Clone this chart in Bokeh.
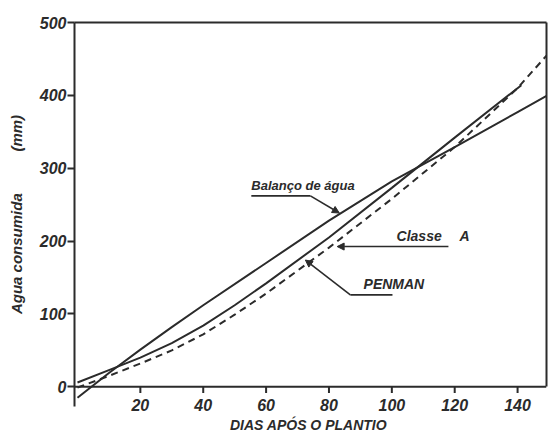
from bokeh.plotting import figure
from bokeh.models import LinearAxis, FixedTicker, Label, Arrow, NormalHead, Range1d, Span
from bokeh.embed import file_html
from bokeh.resources import INLINE

# ---- data ----
dias_balanco = [0, 10, 20, 30, 40, 60, 80, 100, 120, 140, 149.5]
agua_balanco = [-15, 19, 51, 82, 112, 170, 228, 282, 329, 377, 400]

dias_classe = [0, 10, 20, 30, 40, 50, 60, 80, 100, 120, 141.2]
agua_classe = [6, 23, 40, 60, 84, 112, 142, 205, 273, 342, 414]

dias_penman = [0, 10, 20, 30, 40, 50, 60, 80, 100, 120, 140, 149.5]
agua_penman = [-1, 15, 32, 50, 72, 99, 128, 191, 258, 329, 410, 456]

x_ticks = [20, 40, 60, 80, 100, 120, 140]
y_ticks = [0, 100, 200, 300, 400, 500]

INK = "#2b2b2b"
FONT = "Liberation Sans"
X0, X1 = -0.95, 149.2
TICK_LEN = 8.5  # tick length in data units (about 6 px)

p = figure(width=548, height=438, x_range=Range1d(X0, X1), y_range=Range1d(-27, 500),
           output_backend="svg", toolbar_location=None,
           x_axis_location=None, y_axis_location=None,
           min_border_left=74, min_border_right=2, min_border_top=22, min_border_bottom=32)
p.grid.visible = False
p.outline_line_color = None
p.background_fill_color = "white"
p.border_fill_color = "white"

def bare(ax):
    ax.minor_tick_in = 0
    ax.minor_tick_out = 0
    ax.major_tick_in = 0
    ax.major_tick_out = 0
    ax.axis_line_color = INK
    ax.axis_line_width = 2
    ax.major_tick_line_color = INK
    ax.major_tick_line_width = 2

# top frame line
top = LinearAxis(ticker=FixedTicker(ticks=[]))
bare(top)
top.major_label_standoff = 0
p.add_layout(top, "above")

# x tick labels + title
xlab = LinearAxis(ticker=FixedTicker(ticks=x_ticks))
bare(xlab)
xlab.axis_line_color = None
xlab.major_tick_line_color = None
xlab.major_label_standoff = -8
xlab.major_label_text_font = FONT
xlab.major_label_text_font_style = "bold italic"
xlab.major_label_text_font_size = "16px"
xlab.major_label_text_color = INK
xlab.axis_label = "DIAS  APÓS O PLANTIO"
xlab.axis_label_text_font = FONT
xlab.axis_label_text_font_style = "bold italic"
xlab.axis_label_text_font_size = "14px"
xlab.axis_label_text_color = INK
xlab.axis_label_standoff = 3
p.add_layout(xlab, "below")

# y axis
yaxis = LinearAxis(ticker=FixedTicker(ticks=y_ticks))
bare(yaxis)
yaxis.major_tick_out = 7
yaxis.major_label_standoff = 1
yaxis.major_label_text_font = FONT
yaxis.major_label_text_font_style = "bold italic"
yaxis.major_label_text_font_size = "16px"
yaxis.major_label_text_color = INK
yaxis.axis_label = "Agua consumida" + "\u00a0" * 10 + "(mm)"
yaxis.axis_label_text_font = FONT
yaxis.axis_label_text_font_style = "bold italic"
yaxis.axis_label_text_font_size = "15px"
yaxis.axis_label_text_color = INK
yaxis.axis_label_standoff = 12
p.add_layout(yaxis, "left")

# right frame line
right = LinearAxis(ticker=FixedTicker(ticks=[]), bounds=(0, 500))
bare(right)
right.major_label_standoff = 0
p.add_layout(right, "right")

# x axis line at y = 0 with downward ticks
p.add_layout(Span(location=0, dimension="width", line_color=INK, line_width=2))
p.segment(x0=x_ticks, y0=[0] * len(x_ticks), x1=x_ticks, y1=[-TICK_LEN] * len(x_ticks),
          line_color=INK, line_width=2)

# ---- curves ----
p.line(dias_balanco, agua_balanco, line_color=INK, line_width=2)
p.line(dias_classe, agua_classe, line_color=INK, line_width=2)
p.line(dias_penman, agua_penman, line_color=INK, line_width=2, line_dash="7 5")

# ---- annotations ----
def txt(x, y, s, size="14px", **kw):
    p.add_layout(Label(x=x, y=y, text=s, text_font=FONT, text_font_style="bold italic",
                       text_font_size=size, text_color=INK, **kw))

def seg(x0, y0, x1, y1, head=False):
    p.add_layout(Arrow(x_start=x0, y_start=y0, x_end=x1, y_end=y1, line_color=INK, line_width=1.6,
                       end=NormalHead(size=7, fill_color=INK, line_color=INK) if head else None))

txt(55.3, 266, "Balanço de água", size="13px")
seg(55.3, 262, 74.1, 262)
seg(74.1, 262, 83.3, 238.5, head=True)

txt(101.5, 196, "Classe")
txt(121.5, 196, "A")
seg(118.0, 192.5, 82.6, 192.5, head=True)

txt(91.0, 130.3, "PENMAN")
seg(100.2, 126.2, 86.8, 126.2)
seg(86.8, 126.2, 72.5, 174, head=True)

open("out.html", "w").write(file_html(p, INLINE))
